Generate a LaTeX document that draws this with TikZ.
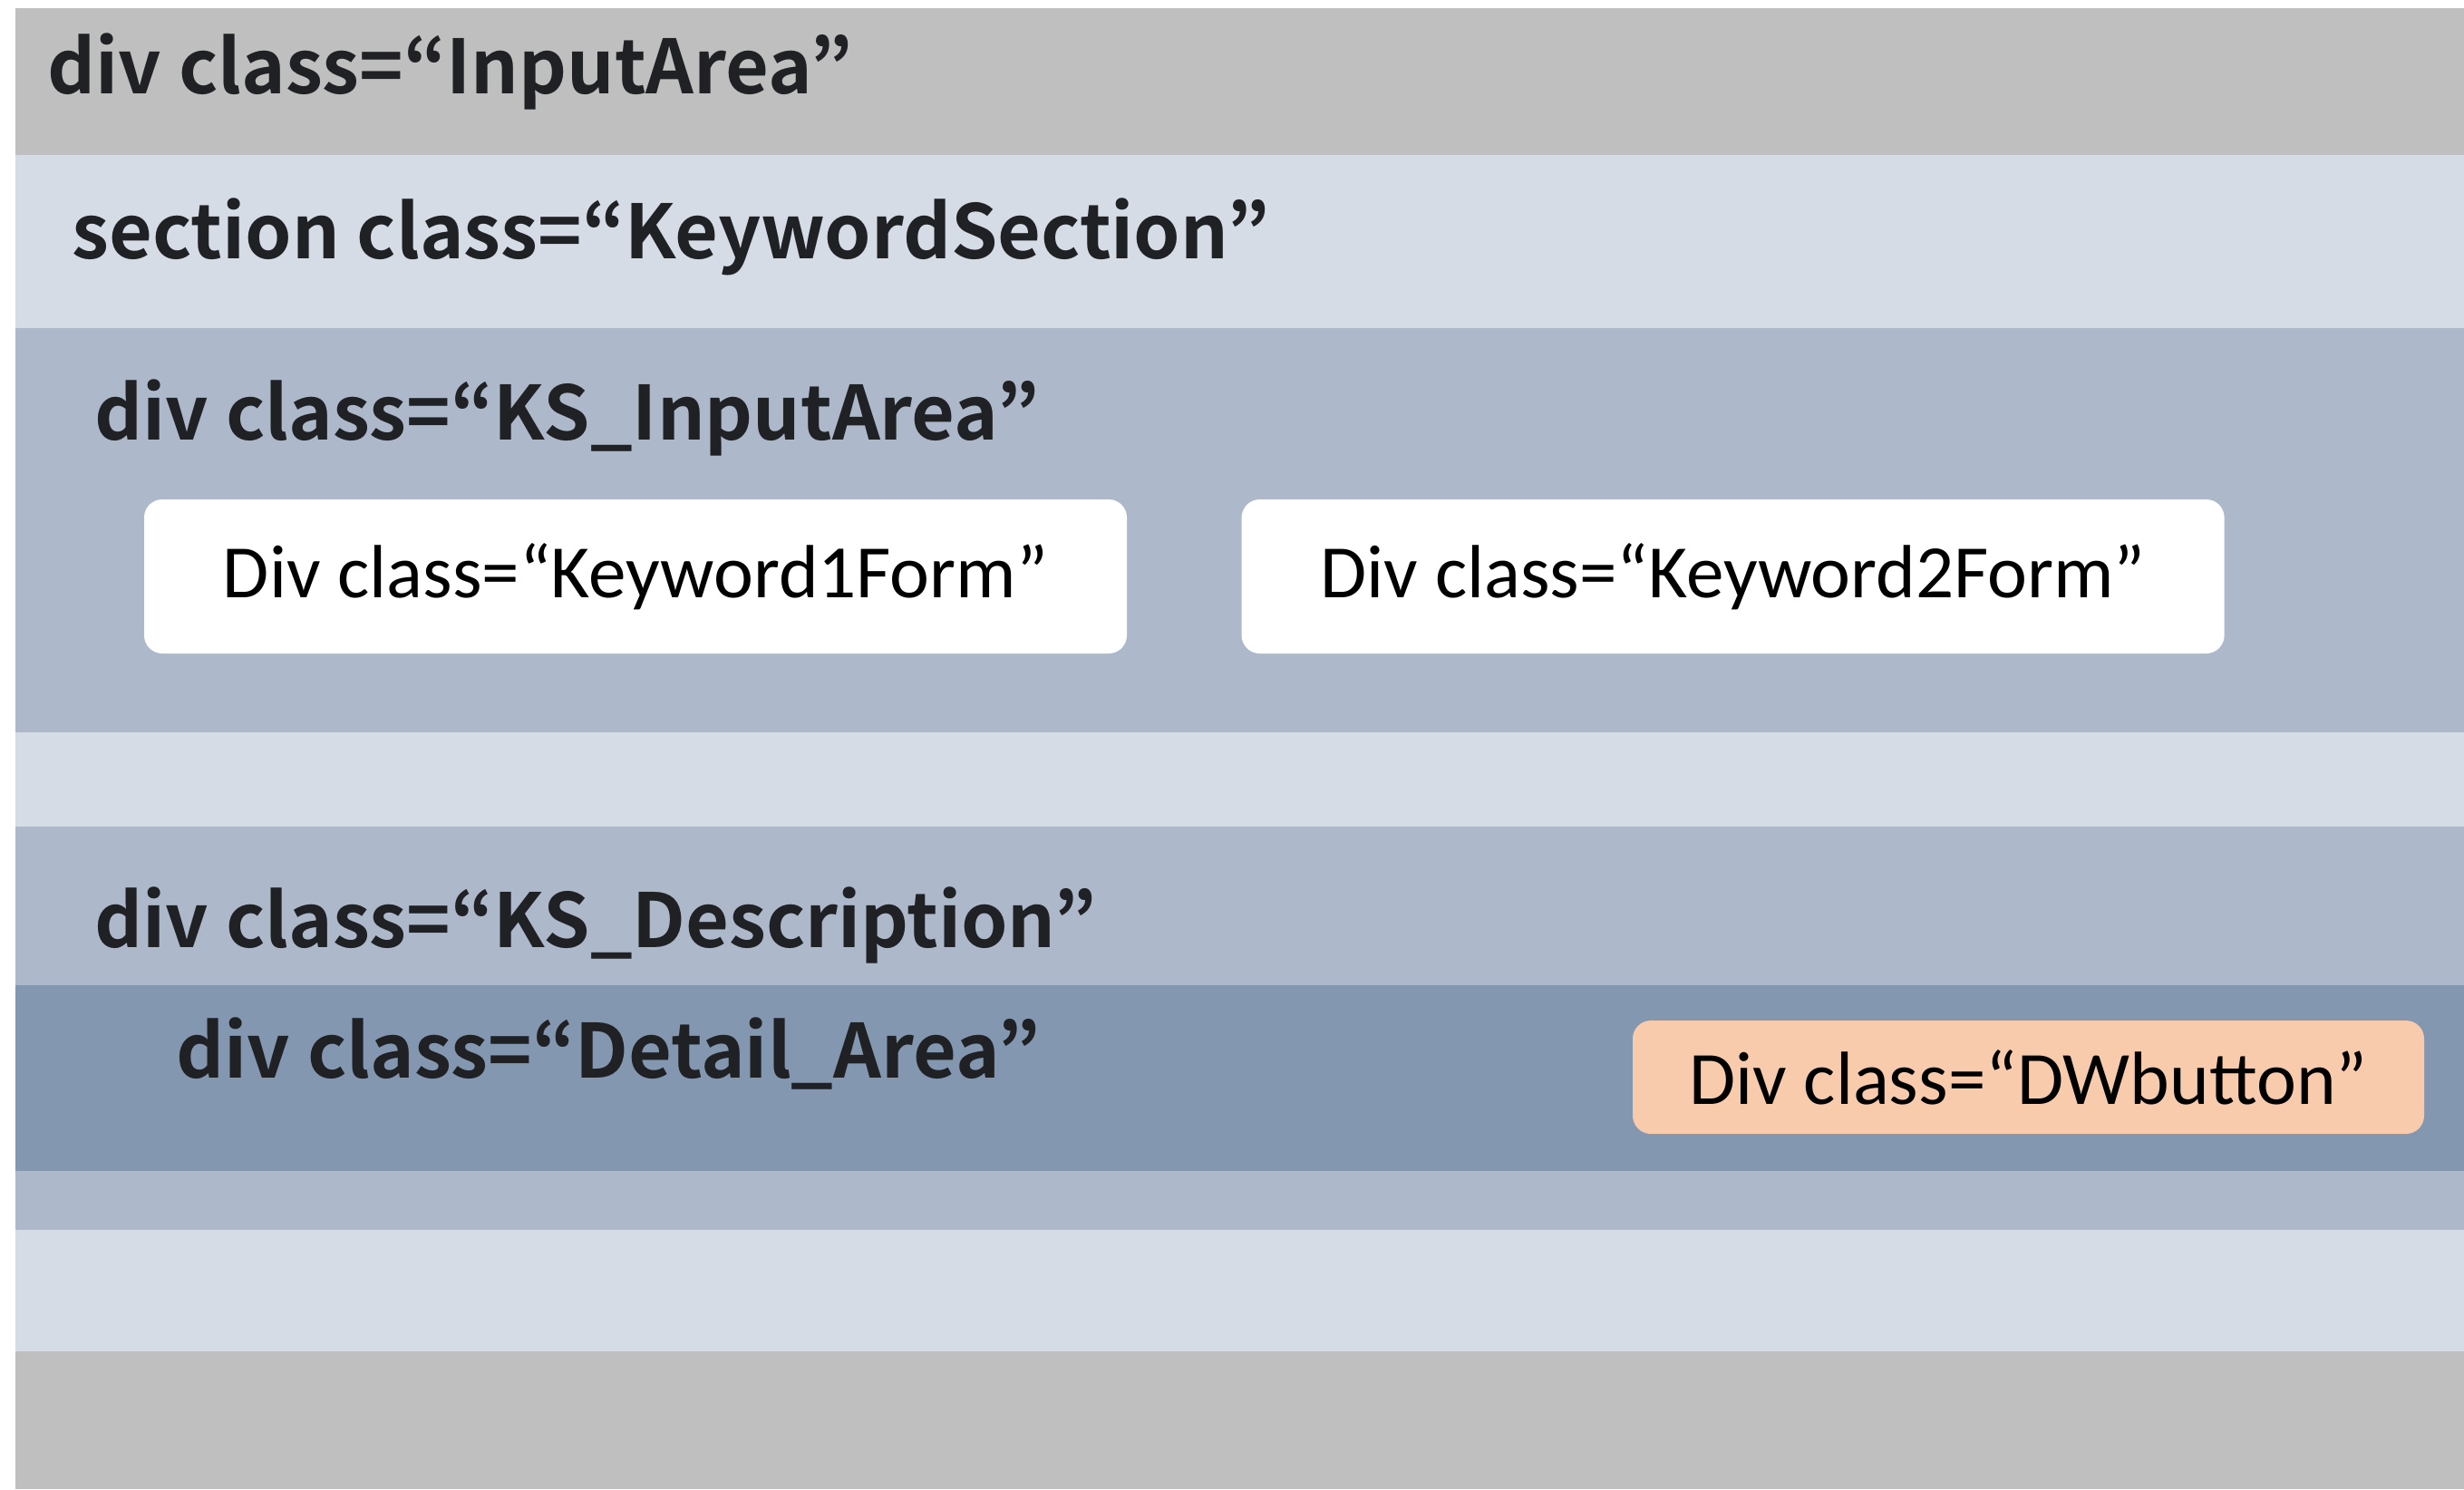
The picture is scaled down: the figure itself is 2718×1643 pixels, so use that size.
\documentclass[tikz,border=0pt]{standalone}
\usepackage{fontspec}
\newfontfamily\headfont{Noto Sans CJK JP}[BoldFont={* Bold}]
\newfontfamily\boxfont{Carlito}
\usetikzlibrary{positioning}
\definecolor{outergray}{HTML}{BFBFBF}
\definecolor{sectionblue}{HTML}{D6DCE5}
\definecolor{midblue}{HTML}{ADB9CA}
\definecolor{darkblue}{HTML}{8497B0}
\definecolor{peach}{HTML}{F8CBAD}
\definecolor{headtext}{HTML}{202124}

\begin{document}
\begin{tikzpicture}[x=0.25pt, y=-0.25pt,
  heading/.style={anchor=base west, inner sep=0pt, text=headtext,
    font=\headfont\bfseries\fontsize{20.6}{24}\selectfont},
  formbox/.style={rectangle, rounded corners=5pt, fill=white,
    minimum width=271pt, minimum height=42.5pt, inner sep=0pt,
    font=\boxfont\fontsize{20.8}{24}\selectfont}]
  \useasboundingbox (0,0) rectangle (2718,1643);

  % nested areas
  \fill[outergray] (17,9) rectangle (2718,1643);
  \fill[sectionblue] (17,171) rectangle (2718,1491);
  \fill[midblue] (17,362) rectangle (2718,808);
  \fill[midblue] (17,912) rectangle (2718,1357);
  \fill[darkblue] (17,1087) rectangle (2718,1292);

  \node[heading] (inputarea) at (52,103) {div class=“InputArea”};
  \node[heading] (kwsection) at (79,285) {section class=“KeywordSection”};
  \node[heading] (ksinput) at (104,485) {div class=“KS\_InputArea”};
  \node[heading] (ksdesc) at (104,1045) {div class=“KS\_Description”};
  \node[heading] (detail) at (194,1189) {div class=“Detail\_Area”};

  \node[formbox] (kwone) at (701,636) {Div class=“Keyword1Form”};
  \node[formbox, right=31.25pt of kwone] (kwtwo) {Div class=“Keyword2Form”};
  \node[formbox, fill=peach, minimum width=218.25pt, minimum height=31.25pt]
    (dwbutton) at (2237.5,1188.5) {Div class=“DWbutton”};
\end{tikzpicture}
\end{document}
